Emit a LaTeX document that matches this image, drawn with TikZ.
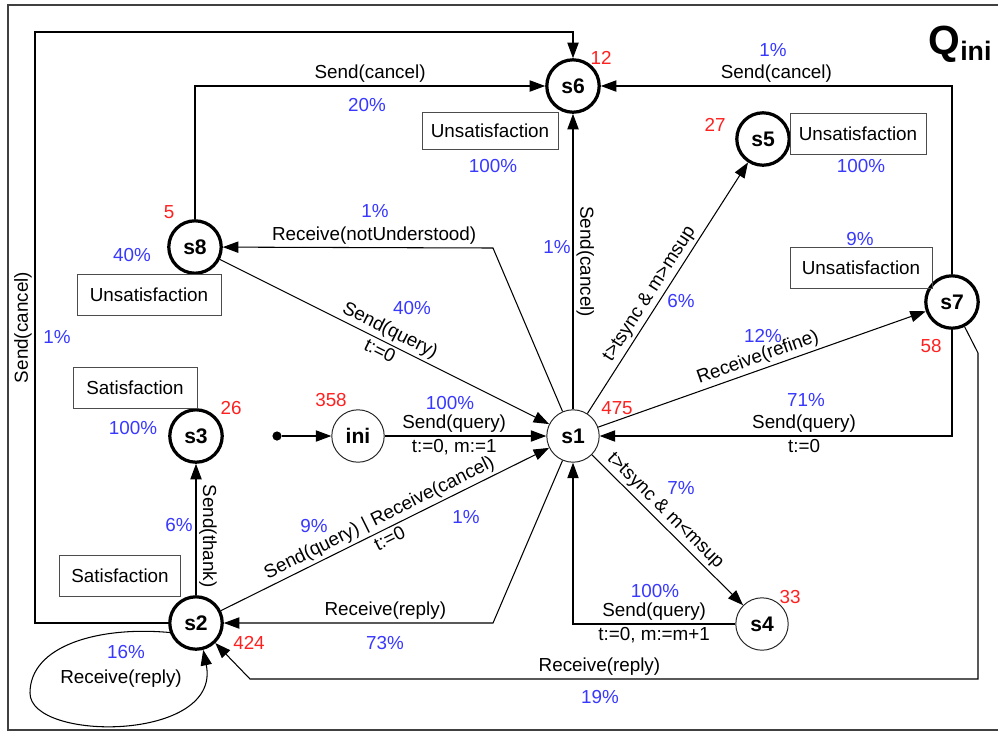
\documentclass[tikz,border=0pt]{standalone}
\usepackage{fontspec}
\setmainfont{Liberation Sans}
\usetikzlibrary{arrows.meta}
\definecolor{pBlue}{HTML}{3838FF}
\definecolor{pRed}{HTML}{FF2020}
\newcommand{\edgefont}{\fontsize{13.4}{15}\selectfont}

\tikzset{
  state/.style={circle, draw=black!85, line width=0.7pt, minimum size=1.31cm, inner sep=0pt,
    font=\fontsize{15}{15}\selectfont\bfseries},
  final/.style={state, draw=black, line width=2.3pt},
  note/.style={draw=black!70, line width=0.6pt, minimum height=1.02cm, inner sep=0pt, font=\edgefont},
  lbl/.style={font=\edgefont, inner sep=2pt},
  pct/.style={font=\edgefont, text=pBlue, inner sep=0pt},
  cnt/.style={font=\edgefont, text=pRed, inner sep=0pt},
}

\begin{document}
\begin{tikzpicture}[x=0.025cm, y=-0.025cm, line width=0.75pt, >={Triangle[length=11pt, width=8pt]}]
    \clip (0,0) rectangle (998,733);
    \draw[black!75, line width=1pt] (8,5) rectangle (1010,730);
    \node[anchor=base west, inner sep=0pt] (title) at (928,54)
      {{\fontsize{29}{29}\selectfont\bfseries Q}{\fontsize{19}{19}\selectfont\bfseries\raisebox{-4.3pt}{ini}}};

    \node[final] (s6) at (573,86) {s6};
    \node[final] (s5) at (763,139) {s5};
    \node[final] (s8) at (195,247) {s8};
    \node[final] (s7) at (952,302) {s7};
    \node[final] (s3) at (196,436) {s3};
    \node[final] (s2) at (196,623) {s2};
    \node[state] (ini) at (358,436) {ini};
    \node[state] (s1) at (573,436) {s1};
    \node[state] (s4) at (762,624) {s4};
    \node[circle, fill, inner sep=0pt, minimum size=2.3mm] (start) at (277,436) {};

    \node[note, minimum width=3.4cm, minimum height=0.93cm] (u6) at (490,131) {Unsatisfaction};
    \node[note, minimum width=3.4cm] (u5) at (858,134) {Unsatisfaction};
    \node[note, minimum width=3.55cm] (u7) at (861,268) {Unsatisfaction};
    \node[note, minimum width=3.6cm] (u8) at (149,295) {Unsatisfaction};
    \node[note, minimum width=3.1cm] (sat3) at (135,388) {Satisfaction};
    \node[note, minimum width=3.02cm] (sat2) at (120,576) {Satisfaction};

    \foreach \x/\y/\t [count=\i] in {367/105/20\%, 493/166/100\%, 773/50/1\%, 861/166/100\%,
        860/239/9\%, 375/211/1\%, 132/255/40\%, 412/308/40\%, 57/337/1\%, 133/428/100\%,
        450/403/100\%, 557/247/1\%, 681/301/6\%, 763/336/12\%, 806/400/71\%, 681/488/7\%,
        179/525/6\%, 314/526/9\%, 466/517/1\%, 385/643/73\%, 126/652/16\%, 655/591/100\%, 600/697/19\%}
      \node[pct] (pct\i) at (\x,\y) {\t};
    \foreach \x/\y/\t [count=\i] in {601/58/12, 715/125/27, 169/212/5, 231/408/26, 331/400/358,
        617/408/475, 931/346/58, 790/597/33, 249/643/424}
      \node[cnt] (cnt\i) at (\x,\y) {\t};
    \node[lbl] (rr) at (121,679) {Receive(reply)};

    \coordinate (cn) at (493,248);
    \coordinate (cs) at (493,623);
    \coordinate (cl1) at (35,623);
    \coordinate (cl2) at (35,32);
    \coordinate (cl3) at (573,32);
    \coordinate (cr1) at (978,353);
    \coordinate (cr2) at (978,679);
    \coordinate (cr3) at (250,679);
    \coordinate (cloop) at (30,693);

    \draw[->] (start) -- (ini);
    \draw[->] (ini) -- node[lbl, above, pos=0.43] {Send(query)} node[lbl, below, pos=0.43] {t:=0, m:=1} (s1);
    \draw[->] (s1) -- node[lbl, rotate=-90, anchor=south] {Send(cancel)} (s6);
    \draw[->] (s1) -- node[lbl, sloped, above, pos=0.45] {t>tsync \& m>msup} (s5);
    \draw[->] (s1) -- node[lbl, sloped, above] {Receive(refine)} (s7);
    \draw[->] (s1) -- node[lbl, sloped, above, pos=0.43] {t>tsync \& m<msup} (s4);
    \draw[->] (s2) -- node[lbl, sloped, above] {Send(query) | Receive(cancel)} node[lbl, sloped, below] {t:=0} (s1);
    \draw[->] (s8) -- node[lbl, sloped, above] {Send(query)} node[lbl, sloped, below] {t:=0} (s1);
    \draw[->] (s7) |- node[lbl, above, pos=0.71] {Send(query)} node[lbl, below, pos=0.71] {t:=0} (s1);
    \draw[->] (s4) -| node[lbl, above, pos=0.25] {Send(query)} node[lbl, below, pos=0.25] {t:=0, m:=m+1} (s1);
    \draw[->] (s8) |- node[lbl, above, pos=0.75] {Send(cancel)} (s6);
    \draw[->] (s7) |- node[lbl, above, pos=0.75] {Send(cancel)} (s6);
    \draw[->] (s1) -- (cn) -- node[lbl, above, pos=0.44] {Receive(notUnderstood)} (s8);
    \draw[->] (s1) -- (cs) -- node[lbl, above, pos=0.4] {Receive(reply)} (s2);
    \draw[->] (s2) -- node[lbl, rotate=-90, anchor=south, pos=0.45] {Send(thank)} (s3);
    \draw[->] (s2) -- (cl1) -- node[lbl, rotate=90, anchor=south] {Send(cancel)} (cl2) -- (cl3) -- (s6);
    \draw[->] (s7) -- (cr1) -- (cr2) -- node[lbl, above, pos=0.52] {Receive(reply)} (cr3) -- (s2);
    \draw[->] (s2.200) .. controls (100,626) and (30,645) .. (cloop)
      .. controls (30,742) and (222,742) .. (s2.-75);
\end{tikzpicture}
\end{document}
